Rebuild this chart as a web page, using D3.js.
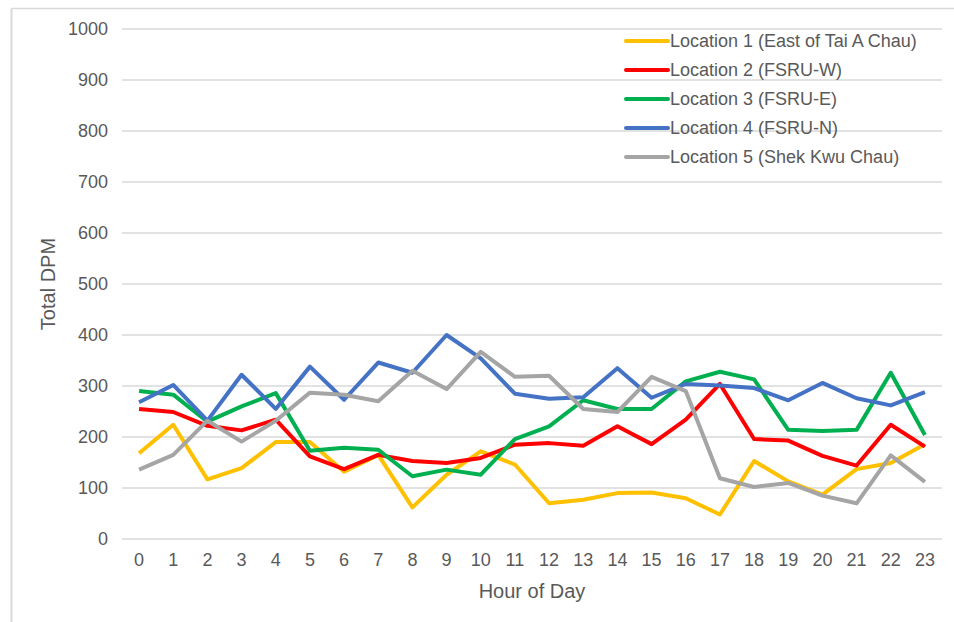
<!DOCTYPE html>
<html>
<head>
<meta charset="utf-8">
<script src="https://cdn.jsdelivr.net/npm/d3@7"></script>
<style>
  body { margin: 0; background: #fff; }
  text { font-family: "Liberation Sans", Arial, sans-serif; }
</style>
</head>
<body>
<div id="chart"></div>
<script>
const width = 954, height = 622;
const margins = { top: 29, right: 12, bottom: 83, left: 122 };

const hours = d3.range(0, 24);
const yTicks = [0, 100, 200, 300, 400, 500, 600, 700, 800, 900, 1000];

const seriesNames = [
    "Location 1 (East of Tai A Chau)",
    "Location 2 (FSRU-W)",
    "Location 3 (FSRU-E)",
    "Location 4 (FSRU-N)",
    "Location 5 (Shek Kwu Chau)"
];
const seriesColors = ["#FFC000", "#FF0000", "#00B050", "#4472C4", "#A5A5A5"];

const loc1 = [168, 224, 117, 139, 190, 190, 132, 165, 62, 126, 172, 146, 70, 77, 90, 91, 80, 48, 153, 113, 87, 137, 149, 186];
const loc2 = [255, 249, 222, 213, 234, 162, 137, 165, 153, 149, 159, 185, 188, 183, 221, 186, 234, 304, 196, 193, 163, 144, 224, 181];
const loc3 = [290, 283, 230, 260, 286, 173, 179, 175, 123, 136, 126, 196, 221, 272, 255, 255, 309, 328, 313, 214, 212, 214, 326, 204];
const loc4 = [268, 302, 232, 322, 255, 338, 273, 346, 326, 400, 354, 285, 275, 278, 335, 277, 304, 301, 296, 272, 306, 276, 262, 288];
const loc5 = [136, 165, 232, 191, 232, 287, 283, 270, 330, 294, 367, 318, 320, 255, 249, 318, 290, 119, 102, 110, 85, 70, 164, 112];

const allSeries = [loc1, loc2, loc3, loc4, loc5];

const svg = d3.select("#chart")
    .append("svg")
    .attr("width", width)
    .attr("height", height);

// outer frame (only top and left edges show)
svg.append("line")
    .attr("x1", 11.5).attr("x2", width).attr("y1", 8.5).attr("y2", 8.5)
    .attr("stroke", "#d9d9d9").attr("stroke-width", 1.5);
svg.append("line")
    .attr("x1", 11.5).attr("x2", 11.5).attr("y1", 8.5).attr("y2", height)
    .attr("stroke", "#d9d9d9").attr("stroke-width", 2);

const x = d3.scaleBand()
    .domain(hours)
    .range([margins.left, width - margins.right]);

const y = d3.scaleLinear()
    .domain([0, 1000])
    .range([height - margins.bottom, margins.top]);

// gridlines
svg.append("g")
    .selectAll("line")
    .data(yTicks)
    .join("line")
    .attr("x1", margins.left)
    .attr("x2", width - margins.right)
    .attr("y1", d => y(d))
    .attr("y2", d => y(d))
    .attr("stroke", "#d9d9d9")
    .attr("stroke-width", 1.3);

// y axis labels
const yAxis = svg.append("g")
    .attr("transform", `translate(${margins.left},0)`)
    .call(d3.axisLeft(y).tickValues(yTicks).tickFormat(d3.format("d")).tickSize(0).tickPadding(14));
yAxis.select(".domain").remove();
yAxis.selectAll("text")
    .attr("fill", "#595959")
    .style("font-size", "18px")
    .style("font-family", "Liberation Sans, Arial, sans-serif");

// x axis labels
const xAxis = svg.append("g")
    .attr("transform", `translate(0,${height - margins.bottom})`)
    .call(d3.axisBottom(x).tickSize(0).tickPadding(14));
xAxis.select(".domain").remove();
xAxis.selectAll("text")
    .attr("fill", "#595959")
    .style("font-size", "18px")
    .style("font-family", "Liberation Sans, Arial, sans-serif");

// axis titles
svg.append("text")
    .attr("transform", `translate(55,${y(500)}) rotate(-90)`)
    .attr("text-anchor", "middle")
    .attr("fill", "#595959")
    .style("font-size", "20px")
    .text("Total DPM");

svg.append("text")
    .attr("x", (margins.left + width - margins.right) / 2)
    .attr("y", 598)
    .attr("text-anchor", "middle")
    .attr("fill", "#595959")
    .style("font-size", "20px")
    .text("Hour of Day");

// lines
const line = d3.line()
    .x((d, i) => x(hours[i]) + x.bandwidth() / 2)
    .y(d => y(d));

svg.append("g")
    .selectAll("path")
    .data(allSeries)
    .join("path")
    .attr("d", d => line(d))
    .attr("fill", "none")
    .attr("stroke", (d, i) => seriesColors[i])
    .attr("stroke-width", 4)
    .attr("stroke-linejoin", "round");

// legend
const legend = svg.append("g")
    .attr("transform", "translate(626,41)");

const items = legend.selectAll("g")
    .data(seriesNames)
    .join("g")
    .attr("transform", (d, i) => `translate(0,${i * 29})`);

items.append("line")
    .attr("x1", 0).attr("x2", 42)
    .attr("y1", 0).attr("y2", 0)
    .attr("stroke", (d, i) => seriesColors[i])
    .attr("stroke-width", 4)
    .attr("stroke-linecap", "round");

items.append("text")
    .attr("x", 44)
    .attr("y", 0)
    .attr("dy", "0.35em")
    .attr("fill", "#595959")
    .style("font-size", "18px")
    .text(d => d);
</script>
</body>
</html>
